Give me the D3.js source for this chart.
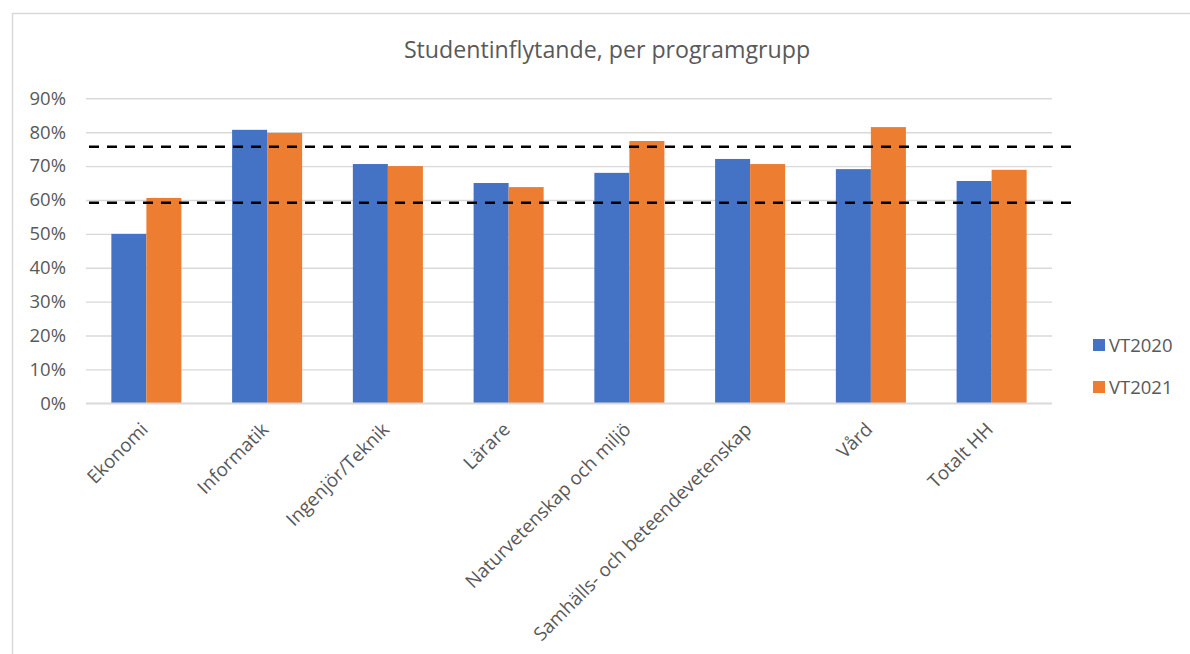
<!DOCTYPE html>
<html>
<head>
<meta charset="utf-8">
<script src="https://cdn.jsdelivr.net/npm/d3@7"></script>
<style>
  html, body { margin: 0; padding: 0; background: #fff; }
  svg { display: block; font-family: "Open Sans", sans-serif; }
</style>
</head>
<body>
<svg id="chart" width="1190" height="654"></svg>
<script>
const categories = ["Ekonomi", "Informatik", "Ingenjör/Teknik", "Lärare", "Naturvetenskap och miljö", "Samhälls- och beteendevetenskap", "Vård", "Totalt HH"];
const seriesNames = ["VT2020", "VT2021"];
const vt2020 = [50.0, 80.7, 70.6, 65.0, 68.0, 72.1, 69.1, 65.6];
const vt2021 = [60.6, 79.8, 70.0, 63.8, 77.4, 70.6, 81.5, 68.9];
const referenceLines = [75.7, 59.2];
const yTicks = [0, 10, 20, 30, 40, 50, 60, 70, 80, 90];
const title = "Studentinflytande, per programgrupp";

const colors = ["#4472C4", "#ED7D31"];
const textColor = "#595959";
const gridColor = "#d9d9d9";

const svg = d3.select("#chart");

// outer frame
svg.append("rect")
  .attr("x", 12.5).attr("y", 13.5)
  .attr("width", 1300).attr("height", 800)
  .attr("fill", "none").attr("stroke", gridColor).attr("stroke-width", 1.5);

const plot = { left: 86, right: 1052, top: 98.3, bottom: 403.3 };

const x = d3.scaleBand().domain(categories)
  .range([plot.left, plot.right]).paddingInner(0.42).paddingOuter(0.21);
const x1 = d3.scaleBand().domain(seriesNames).range([0, x.bandwidth()]);
const y = d3.scaleLinear().domain([0, 90]).range([plot.bottom, plot.top]);

// title
svg.append("text")
  .attr("x", 607).attr("y", 57.5)
  .attr("text-anchor", "middle")
  .attr("fill", textColor)
  .attr("font-size", 23.2)
  .text(title);

// grid + y axis
const yAxis = d3.axisLeft(y).tickValues(yTicks)
  .tickSize(-(plot.right - plot.left))
  .tickPadding(20)
  .tickFormat(d => d + "%");
const gy = svg.append("g").attr("transform", `translate(${plot.left},0)`).call(yAxis);
gy.select(".domain").remove();
gy.selectAll(".tick line").attr("stroke", gridColor).attr("stroke-width", 1.4);
gy.selectAll(".tick text").attr("fill", textColor).attr("font-size", 18.5)
  .attr("font-family", "'Open Sans', sans-serif");

// bars
const data = categories.map((c, i) => ({ cat: c, values: [vt2020[i], vt2021[i]] }));
const groups = svg.append("g").selectAll("g").data(data).join("g")
  .attr("transform", d => `translate(${x(d.cat)},0)`);
groups.selectAll("rect").data(d => d.values.map((v, j) => ({ key: seriesNames[j], v, j })))
  .join("rect")
  .attr("x", d => x1(d.key))
  .attr("width", x1.bandwidth())
  .attr("y", d => y(d.v))
  .attr("height", d => y(0) - y(d.v))
  .attr("fill", d => colors[d.j]);

// bottom axis line
svg.append("line")
  .attr("x1", plot.left).attr("x2", plot.right)
  .attr("y1", y(0)).attr("y2", y(0))
  .attr("stroke", gridColor).attr("stroke-width", 1.4);

// x labels
svg.append("g").selectAll("text").data(categories).join("text")
  .attr("transform", d => `translate(${x(d) + x.bandwidth() / 2},428) rotate(-45)`)
  .attr("text-anchor", "end")
  .attr("dy", "0.2em")
  .attr("fill", textColor)
  .attr("font-size", 18.8)
  .text(d => d);

// dashed reference lines
svg.append("g").selectAll("line").data(referenceLines).join("line")
  .attr("x1", plot.left + 3).attr("x2", plot.right + 19)
  .attr("y1", d => y(d)).attr("y2", d => y(d))
  .attr("stroke", "#000").attr("stroke-width", 2.6)
  .attr("stroke-dasharray", "10,8");

// legend
const legend = svg.append("g").selectAll("g").data(seriesNames).join("g")
  .attr("transform", (d, i) => `translate(1093,${339 + i * 42})`);
legend.append("rect").attr("width", 12).attr("height", 12)
  .attr("fill", (d, i) => colors[i]);
legend.append("text").attr("x", 16).attr("y", 13)
  .attr("fill", textColor).attr("font-size", 18.5)
  .text(d => d);
</script>
</body>
</html>
